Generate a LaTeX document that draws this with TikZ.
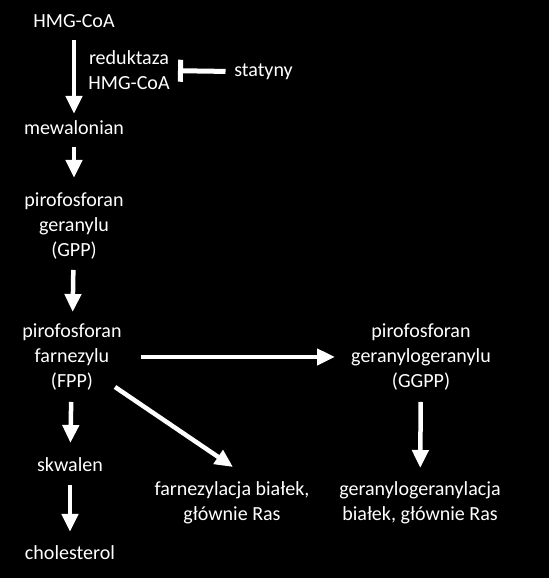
\documentclass[tikz,border=0pt]{standalone}
\usepackage{fontspec}
\setmainfont{Carlito}
\usepackage{tikz}
\usetikzlibrary{arrows.meta,positioning}

\tikzset{
  label/.style={align=center,inner sep=0pt,text=cfg,font=\fontsize{11.4}{14.2}\selectfont},
  post/.style={draw=cfg,line width=0.09cm,-{Triangle[length=0.36cm,width=0.32cm]}},
  inhib/.style={draw=cfg,line width=0.1cm,-{Bar[width=0.44cm]}},
}

\begin{document}
\begin{tikzpicture}
%
\useasboundingbox (0,0) rectangle (10.98cm,11.56cm);
%
\definecolor{cbg}{rgb}{0.0,0.0,0.0}
\definecolor{cfg}{rgb}{1.0,1.0,1.0}
\fill[cbg] (0,0) rectangle (10.98cm,11.56cm);
%
\node[label] (hmg) at (1.48cm,11.14cm) {HMG-CoA};
\node[label] (red) at (2.58cm,10.16cm) {reduktaza\\HMG-CoA};
\node[label] (stat) at (5.27cm,10.12cm) {statyny};
\node[label] (mew) at (1.48cm,9.01cm) {mewalonian};
\node[label] (gpp) at (1.48cm,7.04cm) {pirofosforan\\geranylu\\(GPP)};
\node[label] (fpp) at (1.44cm,4.42cm) {pirofosforan\\farnezylu\\(FPP)};
\node[label] (ggpp) at (8.42cm,4.42cm) {pirofosforan\\geranylogeranylu\\(GGPP)};
\node[label] (skw) at (1.40cm,2.26cm) {skwalen};
\node[label] (chol) at (1.40cm,0.50cm) {cholesterol};
\node[label] (farn) at (4.64cm,1.50cm) {farnezylacja białek,\\głównie Ras};
\node[label] (ggran) at (8.40cm,1.50cm) {geranylogeranylacja\\białek, głównie Ras};
%
\draw[post,shorten <=0.38cm,shorten >=0.27cm] (hmg.center) -- (mew.center);
\draw[post,shorten <=0.39cm,shorten >=0.96cm] (mew.center) -- (gpp.center);
\draw[post,shorten <=0.88cm,shorten >=0.90cm] (gpp.center) -- (fpp.center);
\draw[post,shorten <=0.90cm,shorten >=0.44cm] (fpp.center) -- (skw.center);
\draw[post,shorten <=0.40cm,shorten >=0.42cm] (skw.center) -- (chol.center);
\draw[post,shorten <=0.90cm,shorten >=0.70cm] (ggpp.center) -- (ggran.center);
\draw[post,shorten <=1.38cm,shorten >=1.72cm] (fpp.center) -- (ggpp.center);
\draw[post] ([shift={(0.86cm,-0.60cm)}]fpp.center) -- ([shift={(0.02cm,0.72cm)}]farn.center);
\draw[inhib,shorten <=0.76cm,shorten >=0.98cm] (stat.center) -- (red.center);
%
\end{tikzpicture}
\end{document}
